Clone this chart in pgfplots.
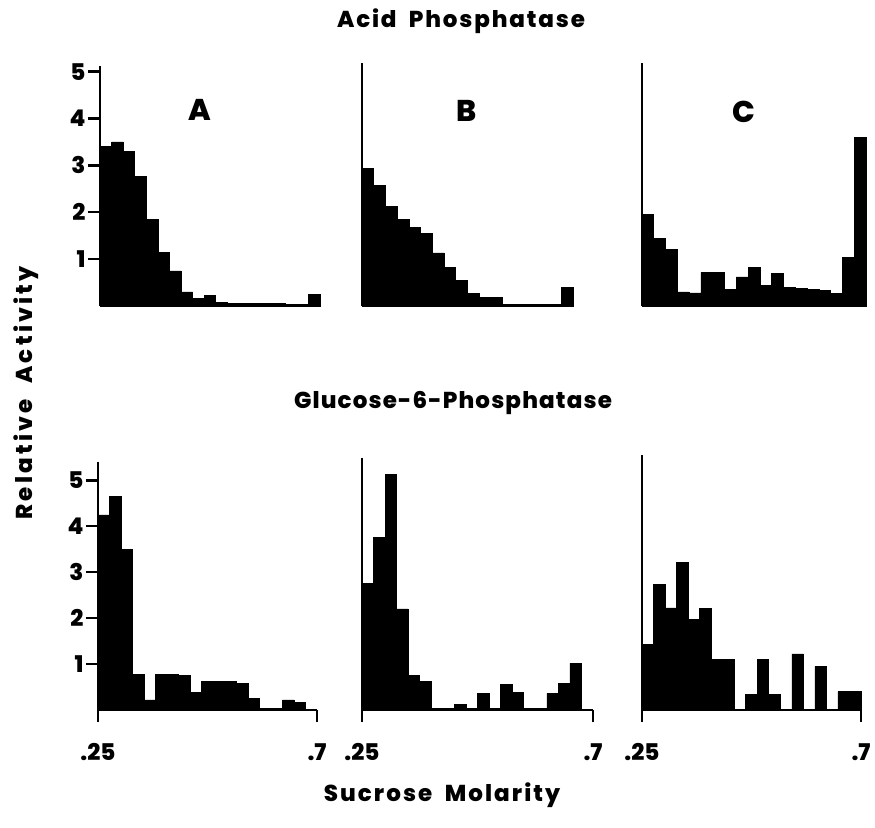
\documentclass[border=0pt]{standalone}
\usepackage{fontspec}
\setmainfont{Poppins}[BoldFont={Poppins ExtraBold}]
\usepackage{pgfplots}
\pgfplotsset{compat=1.18}

% bin heights (relative activity) per sucrose-gradient fraction
\pgfplotsset{
  hist/.style={
    scale only axis, anchor=south west,
    axis lines=left,
    axis line style={-, line width=2.6pt, black},
    tick style={line width=2.4pt, black},
    major tick length=12pt,
    tick align=outside,
    ymin=0, xmin=0,
    ytick=\empty, xtick=\empty,
    clip=false,
    /pgf/number format/assume math mode=true,
    ticklabel style={font=\bfseries\fontsize{23}{23}\selectfont},
  },
  yaxisA/.style={
    ytick={1,2,3,4,5}, yticklabels={1,2,3,4,5},
    yticklabel style={xshift=1pt},
  },
  molarity/.style={
    xtick={0,#1}, xticklabels={.25,.7},
    xticklabel style={yshift=-18pt},
  },
  bars/.style={ybar interval, fill=black, draw=black, line width=0.6pt},
}

\begin{document}
\begin{tikzpicture}[x=1pt,y=1pt]
\useasboundingbox (0,0) rectangle (875,827);

% ---------- Acid Phosphatase ----------
\begin{axis}[hist, yaxisA, at={(100pt,521pt)}, width=220pt, height=240pt,
  xmax=19, ymax=5.12]
\addplot[bars] coordinates {
 (0,3.4) (1,3.5) (2,3.3) (3,2.77) (4,1.85) (5,1.15) (6,0.75) (7,0.3)
 (8,0.17) (9,0.22) (10,0.07) (11,0.06) (12,0.05) (13,0.05) (14,0.05)
 (15,0.05) (16,0.04) (17,0.04) (18,0.25) (19,0)};
\end{axis}

\begin{axis}[hist, at={(362pt,521pt)}, width=211pt, height=243pt,
  xmax=18, ymax=5.18]
\addplot[bars] coordinates {
 (0,2.93) (1,2.57) (2,2.13) (3,1.84) (4,1.67) (5,1.54) (6,1.13) (7,0.82)
 (8,0.55) (9,0.26) (10,0.19) (11,0.18) (12,0.03) (13,0.03) (14,0.03)
 (15,0.03) (16,0.03) (17,0.4) (18,0)};
\end{axis}

\begin{axis}[hist, at={(642pt,521pt)}, width=224pt, height=243pt,
  xmax=19, ymax=5.18]
\addplot[bars] coordinates {
 (0,1.95) (1,1.44) (2,1.21) (3,0.3) (4,0.28) (5,0.71) (6,0.71) (7,0.35)
 (8,0.62) (9,0.82) (10,0.44) (11,0.69) (12,0.39) (13,0.37) (14,0.35)
 (15,0.33) (16,0.26) (17,1.04) (18,3.6) (19,0)};
\end{axis}

% ---------- Glucose-6-Phosphatase ----------
\begin{axis}[hist, yaxisA, molarity=19, at={(98pt,117pt)}, width=219pt, height=248pt,
  xmax=19, ymax=5.4]
\addplot[bars] coordinates {
 (0,4.25) (1,4.65) (2,3.5) (3,0.78) (4,0.22) (5,0.78) (6,0.77) (7,0.75)
 (8,0.38) (9,0.62) (10,0.62) (11,0.62) (12,0.58) (13,0.26) (14,0.04)
 (15,0.04) (16,0.22) (17,0.17) (18,0) (19,0)};
\end{axis}

\begin{axis}[hist, molarity=20, at={(362pt,117pt)}, width=231pt, height=252pt,
  xmax=20, ymax=5.48]
\addplot[bars] coordinates {
 (0,2.75) (1,3.75) (2,5.12) (3,2.2) (4,0.75) (5,0.62) (6,0.03) (7,0.03)
 (8,0.13) (9,0.03) (10,0.36) (11,0.03) (12,0.56) (13,0.39) (14,0.03)
 (15,0.03) (16,0.36) (17,0.58) (18,1.02) (19,0) (20,0)};
\end{axis}

\begin{axis}[hist, molarity=19, at={(642pt,117pt)}, width=219pt, height=255pt,
  xmax=19, ymax=5.54]
\addplot[bars] coordinates {
 (0,1.42) (1,2.72) (2,2.22) (3,3.2) (4,1.97) (5,2.2) (6,1.1) (7,1.1)
 (8,0) (9,0.34) (10,1.1) (11,0.34) (12,0) (13,1.22) (14,0) (15,0.95)
 (16,0) (17,0.4) (18,0.4) (19,0)};
\end{axis}

% ---------- titles and labels ----------
\node[font=\bfseries\fontsize{23}{23}\selectfont\addfontfeatures{LetterSpace=8}]
  at (461,806) {Acid\hspace{6pt} Phosphatase};
\node[font=\bfseries\fontsize{23}{23}\selectfont\addfontfeatures{LetterSpace=5}]
  at (453,424) {Glucose-6-Phosphatase};
\node[font=\bfseries\fontsize{23}{23}\selectfont\addfontfeatures{LetterSpace=9}]
  at (442,32) {Sucrose\hspace{6pt} Molarity};
\node[font=\bfseries\fontsize{23}{23}\selectfont\addfontfeatures{LetterSpace=14}, rotate=90]
  at (26,434) {Relative\hspace{8pt} Activity};

\node[font=\bfseries\fontsize{30}{30}\selectfont] at (200,717) {A};
\node[font=\bfseries\fontsize{30}{30}\selectfont] at (467,716) {B};
\node[font=\bfseries\fontsize{30}{30}\selectfont] at (744,715) {C};
\end{tikzpicture}
\end{document}
